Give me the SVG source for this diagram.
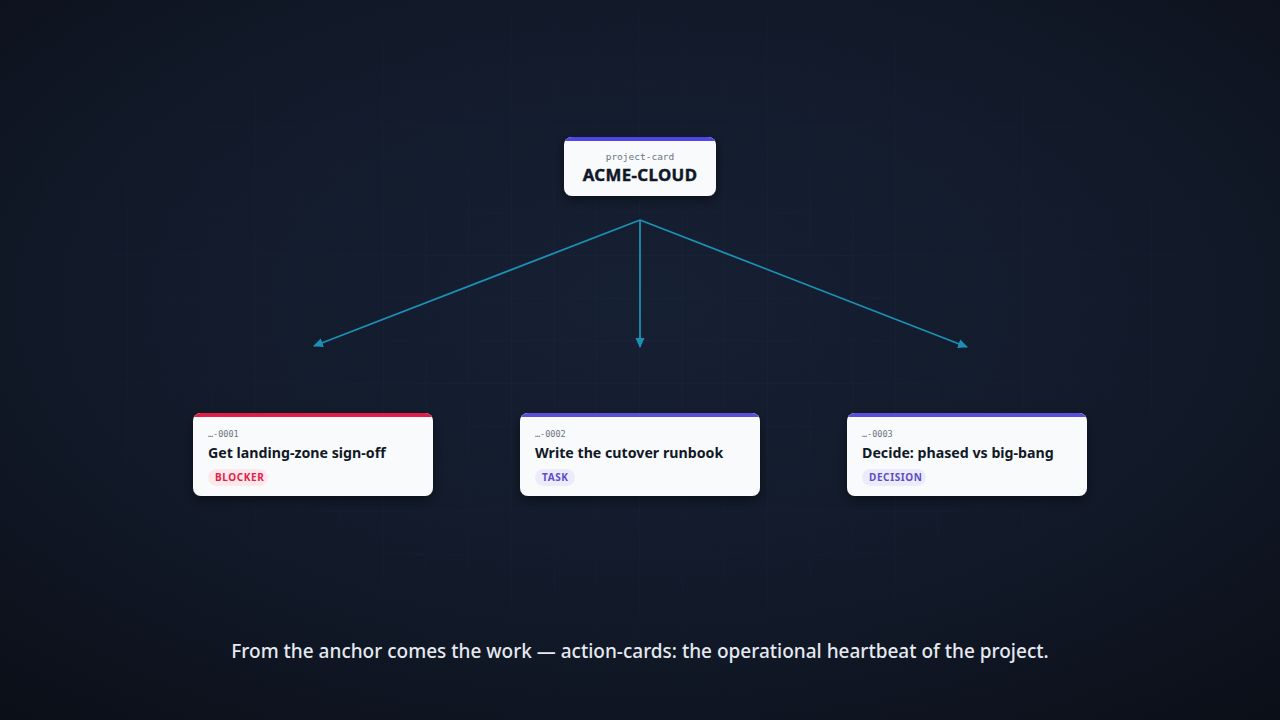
<svg xmlns="http://www.w3.org/2000/svg" width="1280" height="720" viewBox="0 0 1280 720">
  <defs>
    <radialGradient id="bg" cx="50%" cy="42%" r="75%">
      <stop offset="0" stop-color="#162033"/>
      <stop offset="0.55" stop-color="#121a2a"/>
      <stop offset="1" stop-color="#0b0f18"/>
    </radialGradient>
    <pattern id="grid" width="42.6667" height="42.6667" patternUnits="userSpaceOnUse">
      <path d="M42.6667 0 V42.6667 M0 42.6667 H42.6667" fill="none" stroke="#2a3a55" stroke-width="1"/>
    </pattern>
    <radialGradient id="fade" cx="50%" cy="45%" r="55%">
      <stop offset="0" stop-color="#fff" stop-opacity="0.55"/>
      <stop offset="0.7" stop-color="#fff" stop-opacity="0.25"/>
      <stop offset="1" stop-color="#fff" stop-opacity="0"/>
    </radialGradient>
    <mask id="gridMask">
      <rect width="1280" height="720" fill="url(#fade)"/>
    </mask>
    <filter id="shadow" x="-20%" y="-30%" width="140%" height="170%">
      <feDropShadow dx="0" dy="4" stdDeviation="6" flood-color="#000" flood-opacity="0.45"/>
    </filter>
    <marker id="arrow" viewBox="0 0 10 10" refX="9" refY="5" markerWidth="10" markerHeight="10" markerUnits="userSpaceOnUse" orient="auto">
      <path d="M0 0.5 L10 5 L0 9.5 Z" fill="#1c90b4"/>
    </marker>
    <clipPath id="c0"><rect x="564" y="137" width="152" height="59" rx="8"/></clipPath>
    <clipPath id="c1"><rect x="193" y="413" width="240" height="83" rx="8"/></clipPath>
    <clipPath id="c2"><rect x="520" y="413" width="240" height="83" rx="8"/></clipPath>
    <clipPath id="c3"><rect x="847" y="413" width="240" height="83" rx="8"/></clipPath>
  </defs>
  <style>
    .card { fill: #f8fafc; }
    .mono { font-family: "DejaVu Sans Mono", "Liberation Mono", monospace; fill: #6b7280; }
    .title { font-family: "Noto Sans", "Open Sans", sans-serif; font-weight: 700; fill: #111827; }
    .badge { font-family: "Noto Sans", "Open Sans", sans-serif; font-weight: 700; font-size: 10px; letter-spacing: 0.6px; }
    .conn { stroke: #1c90b4; stroke-width: 1.8; fill: none; }
    .caption { font-family: "Noto Sans", "Open Sans", sans-serif; font-weight: 500; font-size: 19px; fill: #e5e9f0; }
  </style>

  <rect width="1280" height="720" fill="url(#bg)"/>
  <rect width="1280" height="720" fill="url(#grid)" mask="url(#gridMask)" opacity="0.5"/>

  <g id="connectors">
    <line class="conn" x1="640" y1="220" x2="314" y2="346" marker-end="url(#arrow)"/>
    <line class="conn" x1="640" y1="220" x2="640" y2="347" marker-end="url(#arrow)"/>
    <line class="conn" x1="640" y1="220" x2="967" y2="347" marker-end="url(#arrow)"/>
  </g>

  <g id="project-card">
    <g filter="url(#shadow)">
      <rect class="card" x="564" y="137" width="152" height="59" rx="8"/>
    </g>
    <rect x="564" y="137" width="152" height="4" fill="#4f46e5" clip-path="url(#c0)"/>
    <text class="mono" x="640" y="160" font-size="9.5" text-anchor="middle">project-card</text>
    <text class="title" x="640" y="181" font-size="16.8" text-anchor="middle" letter-spacing="0.4" fill="#0f172a" stroke="#0f172a" stroke-width="0.45">ACME-CLOUD</text>
  </g>

  <g id="card-0001">
    <g filter="url(#shadow)">
      <rect class="card" x="193" y="413" width="240" height="83" rx="8"/>
    </g>
    <rect x="193" y="413" width="240" height="4" fill="#e11d48" clip-path="url(#c1)"/>
    <text class="mono" x="208" y="437" font-size="8.5">…-0001</text>
    <text class="title" x="208" y="458" font-size="14.2">Get landing-zone sign-off</text>
    <rect x="208" y="469" width="60" height="17" rx="8.5" fill="#fde8ec"/>
    <text class="badge" x="215" y="481" fill="#e11d48">BLOCKER</text>
  </g>

  <g id="card-0002">
    <g filter="url(#shadow)">
      <rect class="card" x="520" y="413" width="240" height="83" rx="8"/>
    </g>
    <rect x="520" y="413" width="240" height="4" fill="#5b4fd8" clip-path="url(#c2)"/>
    <text class="mono" x="535" y="437" font-size="8.5">…-0002</text>
    <text class="title" x="535" y="458" font-size="14.2">Write the cutover runbook</text>
    <rect x="535" y="469" width="40" height="17" rx="8.5" fill="#eceafb"/>
    <text class="badge" x="542" y="481" fill="#5b4fc4">TASK</text>
  </g>

  <g id="card-0003">
    <g filter="url(#shadow)">
      <rect class="card" x="847" y="413" width="240" height="83" rx="8"/>
    </g>
    <rect x="847" y="413" width="240" height="4" fill="#5b4fd8" clip-path="url(#c3)"/>
    <text class="mono" x="862" y="437" font-size="8.5">…-0003</text>
    <text class="title" x="862" y="458" font-size="14.2">Decide: phased vs big-bang</text>
    <rect x="862" y="469" width="64" height="17" rx="8.5" fill="#eceafb"/>
    <text class="badge" x="869" y="481" fill="#5b4fc4">DECISION</text>
  </g>

  <text class="caption" x="640" y="658" text-anchor="middle">From the anchor comes the work — action-cards: the operational heartbeat of the project.</text>
</svg>
